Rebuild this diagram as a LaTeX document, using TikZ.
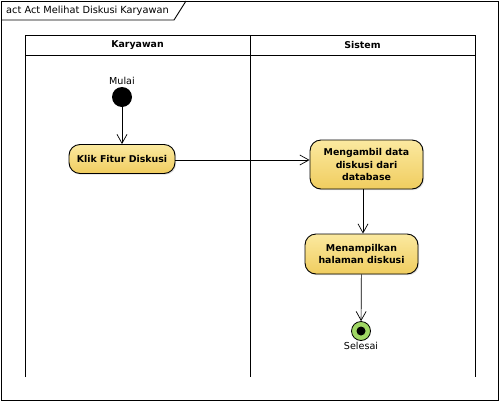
\documentclass[tikz,border=0pt]{standalone}
\usepackage{fontspec}
\setmainfont{DejaVu Sans}
\usetikzlibrary{arrows.meta,shadows}
\definecolor{actTop}{RGB}{251,233,160}
\definecolor{actBot}{RGB}{240,205,95}
\definecolor{endGreen}{RGB}{160,215,100}
\tikzset{
  act/.style={draw=black, line width=0.9pt, rounded corners=11pt, align=center,
    top color=actTop, bottom color=actBot, font=\fontsize{9.4}{12.5}\selectfont\bfseries,
    inner sep=3pt, drop shadow={shadow xshift=1.2pt, shadow yshift=-1.2pt, opacity=0.25}},
  flow/.style={draw=black, line width=0.7pt, -{Straight Barb[length=9pt,width=10pt,line width=0.7pt]}},
  lane/.style={draw=black, line width=0.9pt},
  lbl/.style={font=\fontsize{9.6}{11}\selectfont, inner sep=0pt},
  hdr/.style={font=\fontsize{9.4}{11}\selectfont\bfseries, inner sep=0pt}
}
\begin{document}
\begin{tikzpicture}[x=1pt,y=-1pt]
\useasboundingbox (0,0) rectangle (500,402);
\fill[white] (0,0) rectangle (500,402);
% outer frame
\draw[line width=0.9pt] (1,1) rectangle (498,400);
\draw[line width=0.9pt] (1,20) -- (174,20) -- (186,1);
\node[anchor=west, font=\fontsize{9.8}{11}\selectfont, inner sep=0pt] (title) at (6,11) {act Act Melihat Diskusi Karyawan};
% swimlanes
\draw[lane] (25,377) -- (25,35) -- (475,35) -- (475,377);
\draw[lane] (250,35) -- (250,377);
\draw[lane] (25,55) -- (475,55);
\node[hdr] (h1) at (137.5,45) {Karyawan};
\node[hdr] (h2) at (362.5,45) {Sistem};
% nodes
\node[circle, fill=black, minimum size=20pt, inner sep=0pt] (start) at (122,97) {};
\node[lbl, anchor=south] (mulai) at (122,85) {Mulai};
\node[act, minimum width=106pt, minimum height=29pt] (klik) at (122,159) {Klik Fitur Diskusi};
\node[act, minimum width=113pt, minimum height=49pt] (ambil) at (366.5,164.5) {Mengambil data\\diskusi dari\\database};
\node[act, minimum width=113pt, minimum height=40pt] (tampil) at (361.5,254) {Menampilkan\\halaman diskusi};
\node[circle, draw=black, line width=0.8pt, fill=endGreen, minimum size=19pt, inner sep=0pt] (end) at (361,331) {};
\node[circle, fill=black, minimum size=9pt, inner sep=0pt] (enddot) at (end) {};
\node[lbl, anchor=north] (selesai) at (361,342) {Selesai};
% flows
\draw[flow] (start) -- (klik);
\draw[flow] (klik.east |- 0,160) -- (ambil.west |- 0,160);
\draw[flow] (ambil.south -| 363,0) -- (tampil.north -| 363,0);
\draw[flow] (tampil) -- (end);
\end{tikzpicture}
\end{document}
